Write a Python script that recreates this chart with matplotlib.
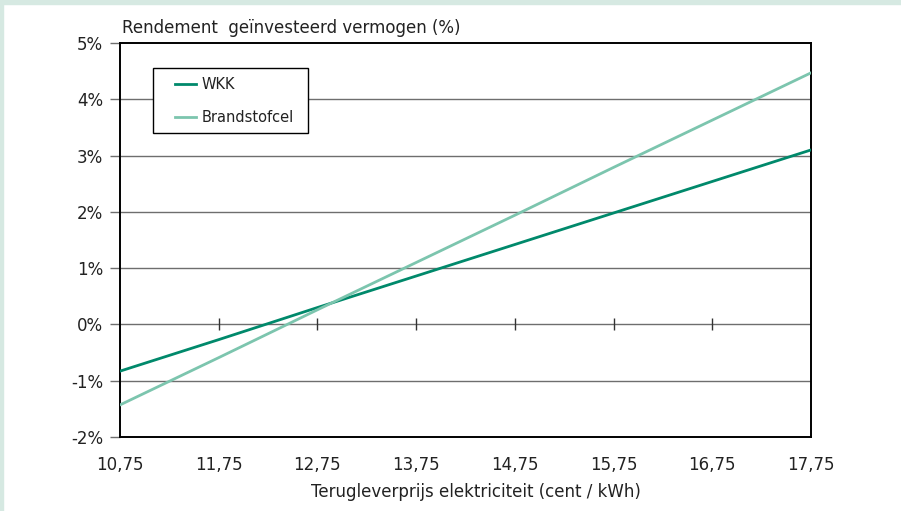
import numpy as np
import matplotlib.pyplot as plt
from matplotlib.patches import Rectangle
from matplotlib.ticker import FuncFormatter

plt.rcParams['font.family'] = ['DejaVu Sans']

# data
prijs = [10.75, 11.75, 12.75, 13.75, 14.75, 15.75, 16.75, 17.75]
wkk = [-0.83, -0.27, 0.30, 0.86, 1.42, 1.98, 2.54, 3.10]
brandstofcel = [-1.43, -0.59, 0.26, 1.10, 1.94, 2.79, 3.63, 4.47]
y_ticks = [-2, -1, 0, 1, 2, 3, 4, 5]

C_WKK = '#00896b'
C_BSC = '#7cc5ae'
GRID = '#6e6e6e'
TXT = '#222222'

W, H = 901, 511
fig = plt.figure(figsize=(W / 100, H / 100), dpi=100)
fig.patch.set_facecolor('white')
# mint frame at top and left edge
fig.patches.append(Rectangle((0, 1 - 4 / H), 1, 4 / H, transform=fig.transFigure,
                             color='#d6e9e2', zorder=0))
fig.patches.append(Rectangle((0, 0), 3 / W, 1, transform=fig.transFigure,
                             color='#d6e9e2', zorder=0))

ax = fig.add_axes([120 / W, 1 - 437 / H, 691 / W, 394 / H])

for v in y_ticks[1:-1]:
    ax.axhline(v, color=GRID, lw=1.0, zorder=1)

# small tick marks on the zero line
ax.plot(prijs[1:-1], np.zeros(len(prijs) - 2), linestyle='none', marker='|',
        ms=9, mew=1.0, color='#333333', zorder=2)

ax.plot(prijs, wkk, color=C_WKK, lw=2.0, label='WKK', zorder=3)
ax.plot(prijs, brandstofcel, color=C_BSC, lw=2.0, label='Brandstofcel', zorder=3)

ax.set_xlim(prijs[0], prijs[-1])
ax.set_ylim(-2, 5)
ax.set_xticks(prijs)
ax.set_xticklabels([f'{p:.2f}'.replace('.', ',') for p in prijs])
ax.set_yticks(y_ticks)
ax.yaxis.set_major_formatter(FuncFormatter(lambda v, _: f'{v:.0f}%'))

ax.tick_params(axis='x', length=0, pad=14, labelsize=12, colors=TXT)
ax.tick_params(axis='y', length=7, width=1.0, color=GRID, pad=5, labelsize=12,
               labelcolor=TXT)
for s in ax.spines.values():
    s.set_color('black')
    s.set_linewidth(1.4)

# legend box drawn by hand, legend entries placed inside
to_ax = lambda px, py: ((px - 120) / 691, (437 - py) / 394)
x0, y0 = to_ax(153, 133)
x1, y1 = to_ax(308, 68)
ax.add_patch(Rectangle((x0, y0), x1 - x0, y1 - y0, transform=ax.transAxes,
                       facecolor='white', edgecolor='black', lw=1.0, zorder=4))
leg = ax.legend(loc='upper left', bbox_to_anchor=to_ax(175, 77),
                frameon=False, fontsize=10.5, handlelength=1.45,
                handletextpad=0.35, labelspacing=1.25, borderpad=0,
                borderaxespad=0)
leg.set_zorder(5)
for t in leg.get_texts():
    t.set_color(TXT)

fig.text(122 / W, 1 - 33 / H, 'Rendement  geïnvesteerd vermogen (%)',
         fontsize=12, color=TXT, ha='left', va='baseline')
fig.text(476 / W, 1 - 497 / H, 'Terugleverprijs elektriciteit (cent / kWh)',
         fontsize=12, color=TXT, ha='center', va='baseline')

fig.savefig('out.png', dpi=100, facecolor='white')
